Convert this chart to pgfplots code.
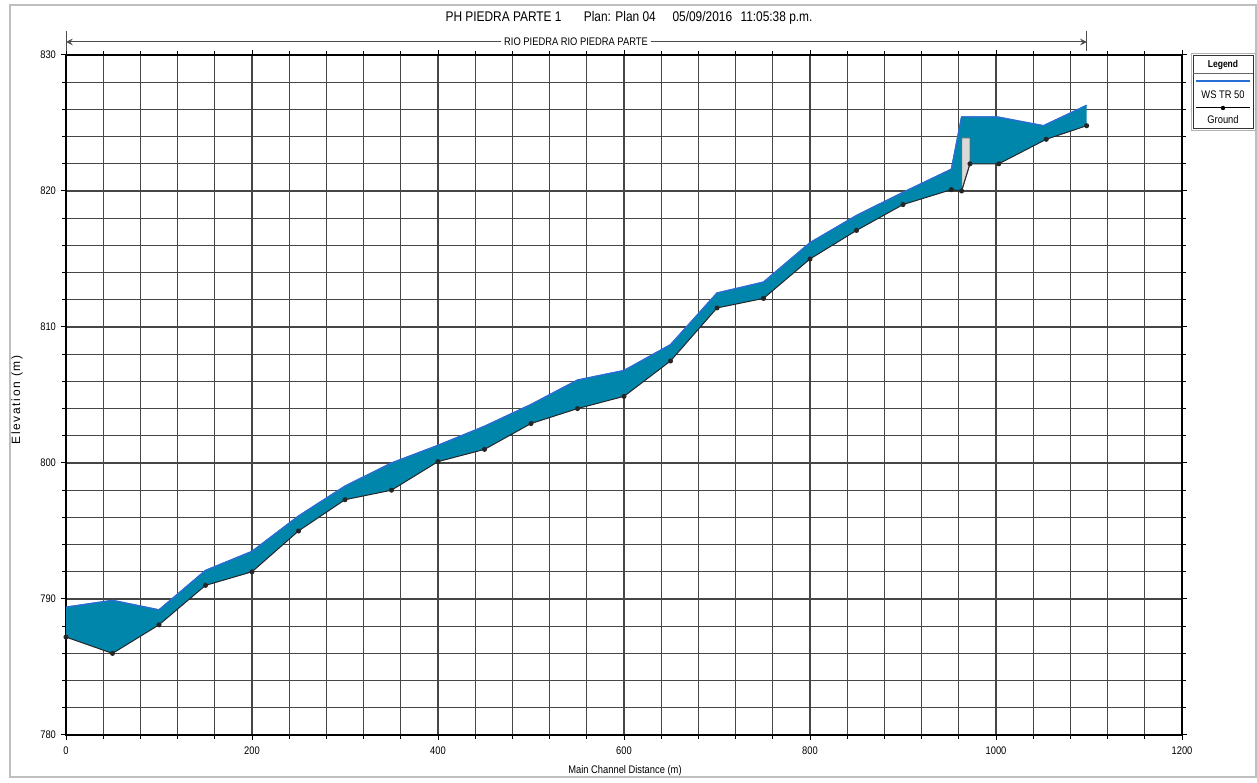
\documentclass[border=0pt]{standalone}
\usepackage{pgfplots}
\pgfplotsset{compat=1.18}
\usepgfplotslibrary{fillbetween}
\usepackage{fontspec}
\setmainfont{Liberation Sans}[FakeStretch=0.85]
\newfontfamily\widefont{Liberation Sans}[LetterSpace=14]
\definecolor{wsfill}{RGB}{0,134,170}
\definecolor{wsline}{RGB}{40,110,210}
\definecolor{gridc}{RGB}{70,70,70}
\begin{document}
\begin{tikzpicture}
\path (0pt,0pt) rectangle (628.5pt,390pt);
\draw[gray!50, line width=0.8pt] (5pt,1.5pt) rectangle (628pt,387.5pt);
\begin{axis}[
  at={(33pt,22.5pt)}, anchor=south west, scale only axis,
  width=558pt, height=340pt,
  xmin=0, xmax=1200, ymin=780, ymax=830,
  xtick={0,200,...,1200}, ytick={780,790,...,830},
  minor x tick num=4, minor y tick num=4,
  grid=both,
  major grid style={gridc, line width=0.6pt},
  minor grid style={gridc, line width=0.6pt},
  axis line style={black, line width=1.1pt},
  tick align=outside, major tick length=2.5pt, minor tick length=2pt,
  tick style={black, line width=0.5pt},
  ticklabel style={font=\fontsize{5.5}{6}\selectfont},
  /pgf/number format/assume math mode=true,
  /pgf/number format/set thousands separator={},
  yticklabel style={xshift=1pt},
]
\addplot[name path=ws, wsline, line width=0.6pt] coordinates {
(0,789.4) (50,789.9) (100,789.2) (150,792.1) (200,793.5) (250,796.1)
(300,798.3) (350,800.0) (400,801.3) (450,802.7) (500,804.3) (550,806.1)
(600,806.8) (650,808.7) (700,812.5) (750,813.3) (800,816.2) (850,818.2)
(900,819.9) (952,821.6) (963,825.45) (1001,825.45) (1051,824.8) (1097.5,826.3)
};
\addplot[name path=gr, draw=none] coordinates {
(0,787.2) (50,786.0) (100,788.1) (150,791.0) (200,792.0) (250,795.0)
(300,797.3) (350,798.0) (400,800.1) (450,801.0) (500,802.9) (550,804.0)
(600,804.9) (650,807.5) (700,811.4) (750,812.1) (800,815.0) (850,817.1)
(900,819.0) (952,820.1) (963,820.0) (972,822.0) (1003,822.0) (1054,823.8) (1097.5,824.8)
};
\addplot[wsfill] fill between[of=ws and gr];
\addplot[fill=black!15, draw=black!60, line width=0.4pt] coordinates {
(963,820.0) (963,823.9) (972,823.9) (972,822.0) (963,820.0)
};
\addplot[wsline, line width=0.6pt] coordinates {
(0,789.4) (50,789.9) (100,789.2) (150,792.1) (200,793.5) (250,796.1)
(300,798.3) (350,800.0) (400,801.3) (450,802.7) (500,804.3) (550,806.1)
(600,806.8) (650,808.7) (700,812.5) (750,813.3) (800,816.2) (850,818.2)
(900,819.9) (952,821.6) (963,825.45) (1001,825.45) (1051,824.8) (1097.5,826.3)
};
\addplot[black!85, line width=0.5pt, mark=*, mark size=1pt] coordinates {
(0,787.2) (50,786.0) (100,788.1) (150,791.0) (200,792.0) (250,795.0)
(300,797.3) (350,798.0) (400,800.1) (450,801.0) (500,802.9) (550,804.0)
(600,804.9) (650,807.5) (700,811.4) (750,812.1) (800,815.0) (850,817.1)
(900,819.0) (952,820.1) (963,820.0) (972,822.0) (1003,822.0) (1054,823.8) (1097.5,824.8)
};
\end{axis}
% title
\node[font=\fontsize{7}{8}\selectfont] at (314.5pt,381pt) {PH PIEDRA PARTE 1\hspace{1.6em}Plan: Plan 04\hspace{1.2em}05/09/2016\hspace{0.6em}11:05:38 p.m.};
% reach bar
\draw[black!70, line width=0.5pt, <->, >=stealth] (33pt,369pt) -- (543.4pt,369pt);
\draw[black!70, line width=0.5pt] (33pt,364.5pt) -- (33pt,374.5pt) (543.4pt,364.5pt) -- (543.4pt,374.5pt);
\node[fill=white, inner sep=1.5pt, font=\fontsize{5.5}{6}\selectfont] at (288pt,369pt) {RIO PIEDRA RIO PIEDRA PARTE};
% axis labels
\node[font=\fontsize{6}{7}\widefont, rotate=90] at (8.5pt,190pt) {Elevation (m)};
\node[font=\fontsize{5.5}{6}\selectfont] at (312.5pt,4.5pt) {Main Channel Distance (m)};
% legend
\draw[gray!60, line width=0.5pt] (595.5pt,324.5pt) rectangle (627.5pt,363pt);
\draw[black!80, line width=0.5pt] (596.5pt,325.5pt) rectangle (626.5pt,362pt);
\node[font=\fontsize{5}{6}\selectfont\bfseries] at (611.5pt,357.5pt) {Legend};
\draw[black!60, line width=0.4pt] (596.5pt,353.5pt) -- (626.5pt,353.5pt);
\draw[wsline, line width=0.8pt] (598pt,349.5pt) -- (625pt,349.5pt);
\node[font=\fontsize{5.5}{6}\selectfont] at (611.5pt,342.5pt) {WS TR 50};
\draw[black, line width=0.5pt] (598pt,336pt) -- (625pt,336pt);
\fill[black] (611.5pt,336pt) circle (1.1pt);
\node[font=\fontsize{5.5}{6}\selectfont] at (611.5pt,330pt) {Ground};
\end{tikzpicture}
\end{document}
